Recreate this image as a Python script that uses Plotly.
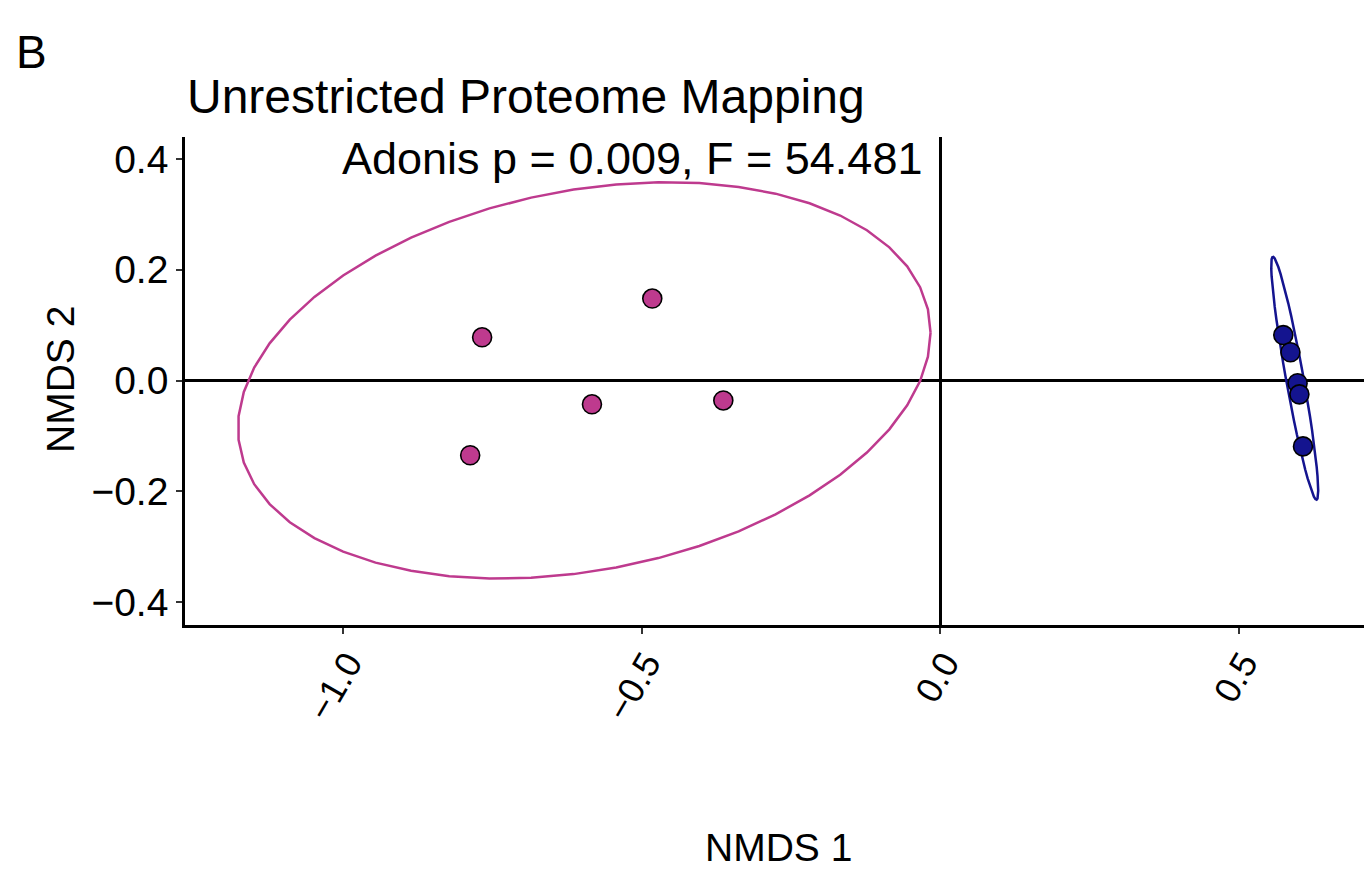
import numpy as np
import plotly.graph_objects as go

# ---- data ----
group_a_x = [-0.767, -0.482, -0.787, -0.583, -0.363]
group_a_y = [0.078, 0.148, -0.135, -0.043, -0.036]
group_b_x = [0.575, 0.587, 0.599, 0.602, 0.608]
group_b_y = [0.082, 0.051, -0.005, -0.025, -0.119]

title_text = "Unrestricted Proteome Mapping"
stat_text = "Adonis p = 0.009, F = 54.481"
x_ticks = [-1.0, -0.5, 0.0, 0.5]
x_tick_labels = ["\u22121.0", "\u22120.5", "0.0", "0.5"]
y_ticks = [-0.4, -0.2, 0.0, 0.2, 0.4]
y_tick_labels = ["\u22120.4", "\u22120.2", "0.0", "0.2", "0.4"]

PINK = "#BE3A8E"
BLUE = "#14148F"


def cov_trob(x, nu=5, maxit=25, tol=0.01):
    n, p = x.shape
    wt = np.ones(n)
    loc = x.mean(axis=0)
    w = np.sqrt(wt)
    X = x - loc
    for _ in range(maxit):
        w0 = w
        X = x - loc
        _, d, vt = np.linalg.svd(np.sqrt(w / w.sum())[:, None] * X, full_matrices=False)
        wX = X @ vt.T @ np.diag(1.0 / d)
        Q = (wX ** 2).sum(axis=1)
        w = (wt * (nu + p)) / (nu + Q)
        loc = (w[:, None] * x).sum(axis=0) / w.sum()
        if np.all(np.abs(w - w0) < tol):
            break
    sX = np.sqrt(w)[:, None] * X
    cov = sX.T @ sX / wt.sum()
    return loc, cov


def ellipse(xs, ys, level=0.95, segments=51):
    pts = np.column_stack([xs, ys])
    center, shape = cov_trob(pts)
    dfn, dfd = 2, len(xs) - 1
    qf = dfd / 2.0 * ((1 - level) ** (-2.0 / dfd) - 1)  # F(2, dfd) quantile
    radius = np.sqrt(dfn * qf)
    ang = np.arange(segments + 1) * 2 * np.pi / segments
    circ = np.column_stack([np.cos(ang), np.sin(ang)])
    R = np.linalg.cholesky(shape).T
    e = center + radius * (circ @ R)
    return e[:, 0], e[:, 1]


ea_x, ea_y = ellipse(group_a_x, group_a_y)
eb_x, eb_y = ellipse(group_b_x, group_b_y)

FONT = "Liberation Sans, Arial, Helvetica, sans-serif"

fig = go.Figure()
fig.add_trace(go.Scatter(x=ea_x, y=ea_y, mode="lines",
                         line=dict(color=PINK, width=2.5), hoverinfo="skip"))
fig.add_trace(go.Scatter(x=eb_x, y=eb_y, mode="lines",
                         line=dict(color=BLUE, width=2.5), hoverinfo="skip"))
fig.add_trace(go.Scatter(x=group_a_x, y=group_a_y, mode="markers",
                         marker=dict(size=19, color=PINK, line=dict(color="black", width=1.6))))
fig.add_trace(go.Scatter(x=group_b_x, y=group_b_y, mode="markers",
                         marker=dict(size=19, color=BLUE, line=dict(color="black", width=1.6))))

axis_common = dict(
    showgrid=False, showline=True, linecolor="black", linewidth=2.6,
    ticks="outside", ticklen=6, tickwidth=2.4, tickcolor="#333333",
    zeroline=True, zerolinecolor="black", zerolinewidth=2.6,
)

fig.update_layout(
    width=1364, height=870,
    plot_bgcolor="white", paper_bgcolor="white",
    showlegend=False,
    margin=dict(l=185, r=0, t=137, b=245),
    xaxis=dict(axis_common, range=[-1.2647, 0.7102], tickvals=x_ticks,
               ticktext=x_tick_labels, tickangle=-60,
               tickfont=dict(family=FONT, size=36, color="black"),
               ticklabelshift=5, ticklabelstandoff=-6),
    yaxis=dict(axis_common, range=[-0.4415, 0.4397], tickvals=y_ticks,
               ticktext=y_tick_labels,
               tickfont=dict(family=FONT, size=39, color="black")),
    annotations=[
        dict(text="B", xref="paper", yref="paper", x=(14 - 185) / 1179, y=1 + 57 / 488,
             xanchor="left", yanchor="bottom", showarrow=False,
             font=dict(family=FONT, size=46, color="black")),
        dict(text=title_text, xref="paper", yref="paper", x=0, y=1 + 12 / 488,
             xanchor="left", yanchor="bottom", showarrow=False,
             font=dict(family=FONT, size=48, color="black")),
        dict(text=stat_text, xref="x", yref="y", x=-0.516, y=0.4,
             xanchor="center", yanchor="middle", showarrow=False,
             font=dict(family=FONT, size=45, color="black")),
        dict(text="NMDS 1", xref="paper", yref="paper", x=(778 - 185) / 1179,
             y=-(848 - 625) / 488, xanchor="center", yanchor="middle", showarrow=False,
             font=dict(family=FONT, size=39, color="black")),
        dict(text="NMDS 2", xref="paper", yref="paper", x=-(185 - 60) / 1179,
             y=(625 - 380) / 488, xanchor="center", yanchor="middle", showarrow=False,
             textangle=-90, font=dict(family=FONT, size=39, color="black")),
    ],
)

fig.write_html("out.html")
